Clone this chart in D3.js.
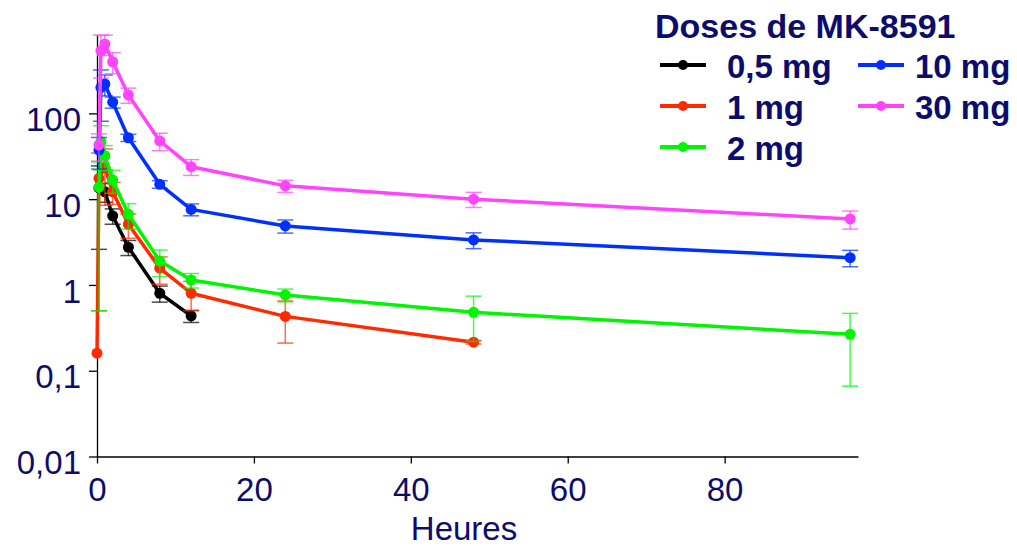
<!DOCTYPE html>
<html>
<head>
<meta charset="utf-8">
<script src="https://cdn.jsdelivr.net/npm/d3@7"></script>
<style>
  body { margin: 0; background: #fff; }
  svg { display: block; font-family: Arial, "Liberation Sans", sans-serif; }
</style>
</head>
<body>
<div id="chart"></div>
<script>
// sampling times (hours)
var hours = [0, 0.25, 0.5, 1, 2, 4, 8, 12, 24, 48, 96];

var doses = ['0,5 mg', '1 mg', '2 mg', '10 mg', '30 mg'];
var colors = ['#000000', '#ff2a00', '#00f500', '#0030ff', '#ff44ff'];

// mean concentrations, null = not sampled
var mean05 = [null, 13.5, null, 12.2, 6.4, 2.75, 0.8, 0.435, null, null, null];
var mean1  = [0.16, 17.5, null, 23.5, 12.2, 5.1, 1.57, 0.8, 0.43, 0.215, null];
var mean2  = [null, 13.8, 46.8, 32.1, 16.7, 6.67, 1.9, 1.14, 0.765, 0.48, 0.266];
var mean10 = [null, 37.4, 201, 220, 135, 52, 14.9, 7.6, 4.87, 3.35, 2.08];
var mean30 = [null, 42.8, 538, 644, 400, 164, 47.7, 23.9, 14.3, 10, 5.88];

// standard deviations
var sd05 = [null, 10.9, null, 3, 1.3, 0.55, 0.17, 0.07, null, null, null];
var sd1  = [0, 17, null, 15, 3.5, 1.6, 0.55, 0.3, 0.22, 0.01, null];
var sd2  = [null, 13.3, 25, 10, 5, 2.2, 0.65, 0.22, 0.13, 0.26, 0.2];
var sd10 = [null, 15, 120, 60, 20, 5, 1.5, 1.2, 0.85, 0.7, 0.45];
var sd30 = [null, 15, 280, 170, 110, 33, 11, 5, 2.3, 2, 1.4];

var xTicks = [0, 20, 40, 60, 80];
var yTicks = [0.01, 0.1, 1, 10, 100];

var means = [mean05, mean1, mean2, mean10, mean30];
var sds = [sd05, sd1, sd2, sd10, sd30];

var navy = '#0c0c6c';

var series = doses.map(function(dose, i) {
    var pts = [];
    hours.forEach(function(h, j) {
        if (means[i][j] != null) pts.push({ t: h, v: means[i][j], sd: sds[i][j] || 0 });
    });
    return { dose: dose, color: colors[i], points: pts };
});

var svg = d3.select('#chart')
    .append('svg')
        .attr('width', 1017)
        .attr('height', 546);

var x = d3.scaleLinear()
    .domain([0, 97])
    .range([97, 858]);

var y = d3.scaleLog()
    .domain([0.01, 820])
    .range([456.5, 35]);

var fmt = function(d) { return String(d).replace('.', ','); };

// axes
var xAxis = svg.append('g')
    .attr('transform', 'translate(0,' + y(0.01) + ')')
    .call(d3.axisBottom(x).tickValues(xTicks).tickSize(7).tickPadding(14).tickSizeOuter(0));

var yAxis = svg.append('g')
    .attr('transform', 'translate(' + x(0) + ',0)')
    .call(d3.axisLeft(y).tickValues(yTicks).tickFormat(fmt).tickSize(8).tickPadding(8).tickSizeOuter(0));

[xAxis, yAxis].forEach(function(g) {
    g.select('.domain').attr('stroke', '#000').attr('stroke-width', 1.3);
    g.selectAll('.tick line').attr('stroke', '#000').attr('stroke-width', 1.3);
    g.selectAll('.tick text')
        .attr('fill', navy)
        .style('font-size', '33px');
});
xAxis.selectAll('.tick text').attr('dy', '0.71em');
yAxis.selectAll('.tick text').attr('dy', '0.52em');

svg.append('text')
    .attr('x', 464)
    .attr('y', 540)
    .attr('text-anchor', 'middle')
    .attr('fill', navy)
    .style('font-size', '33px')
    .text('Heures');

var line = d3.line()
    .x(function(d) { return x(d.t); })
    .y(function(d) { return y(d.v); });

var groups = svg.selectAll('.dose')
    .data(series)
    .enter()
    .append('g')
    .classed('dose', true);

// error bars
groups.each(function(s) {
    var g = d3.select(this).append('g')
        .attr('stroke', s.color)
        .attr('stroke-opacity', 0.7)
        .attr('stroke-width', 1.5);

    s.points.filter(function(d) { return d.sd > 0; }).forEach(function(d) {
        var lo = Math.max(d.v - d.sd, 0.011);
        var hi = Math.min(d.v + d.sd, 820);
        var cx = x(d.t);
        g.append('line')
            .attr('x1', cx).attr('x2', cx)
            .attr('y1', y(lo)).attr('y2', y(hi));
        [lo, hi].forEach(function(e) {
            g.append('line')
                .attr('x1', cx - 8).attr('x2', cx + 8)
                .attr('y1', y(e)).attr('y2', y(e));
        });
    });
});

groups.append('path')
    .attr('d', function(s) { return line(s.points); })
    .attr('fill', 'none')
    .attr('stroke', function(s) { return s.color; })
    .attr('stroke-width', 3.5)
    .attr('stroke-linejoin', 'round');

groups.selectAll('circle')
    .data(function(s) { return s.points.map(function(p) { return { p: p, c: s.color }; }); })
    .enter()
    .append('circle')
        .attr('cx', function(d) { return x(d.p.t); })
        .attr('cy', function(d) { return y(d.p.v); })
        .attr('r', 5.5)
        .attr('fill', function(d) { return d.c; });

// legend
var legend = svg.append('g');

legend.append('text')
    .attr('x', 655)
    .attr('y', 38)
    .attr('fill', navy)
    .style('font-size', '34px')
    .style('font-weight', 'bold')
    .text('Doses de MK-8591');

var legendPos = [[660, 78], [660, 119], [660, 160], [858, 78], [858, 119]];

series.forEach(function(s, i) {
    var lx = legendPos[i][0];
    var ly = legendPos[i][1];
    legend.append('line')
        .attr('x1', lx).attr('x2', lx + 46)
        .attr('y1', ly - 13).attr('y2', ly - 13)
        .attr('stroke', s.color)
        .attr('stroke-width', 4);
    legend.append('circle')
        .attr('cx', lx + 23)
        .attr('cy', ly - 13)
        .attr('r', 5)
        .attr('fill', s.color);
    legend.append('text')
        .attr('x', lx + (i < 3 ? 67 : 57))
        .attr('y', ly)
        .attr('fill', navy)
        .style('font-size', '33px')
        .style('font-weight', 'bold')
        .text(s.dose);
});
</script>
</body>
</html>
